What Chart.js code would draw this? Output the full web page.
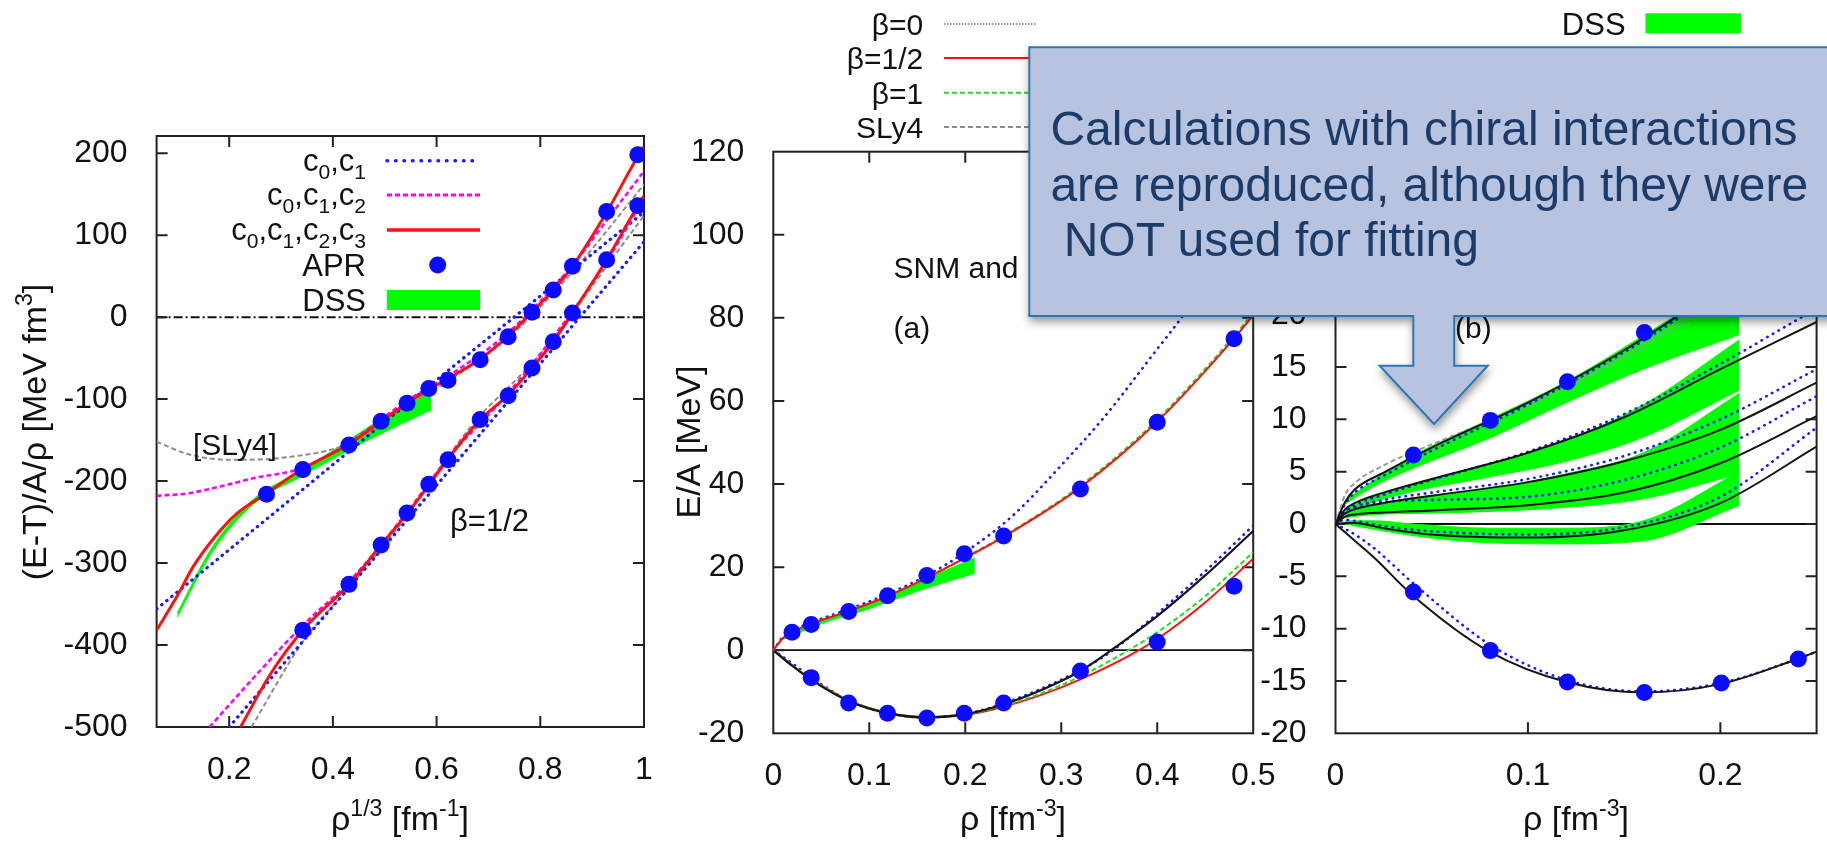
<!DOCTYPE html>
<html lang="en">
<head>
<meta charset="UTF-8">
<title>EOS fits - APR, DSS, SLy4</title>
<script src="https://cdn.jsdelivr.net/npm/chart.js"></script>
<style>
  html, body { margin: 0; padding: 0; background: #fff; }
  body { position: relative; width: 1827px; height: 843px; overflow: hidden; }
  canvas { position: absolute; top: 0; }
  #note { position: absolute; left: 0; top: 0; pointer-events: none; }
</style>
</head>
<body>
<canvas id="c1" width="690" height="843" style="left:0"></canvas>
<canvas id="c2" width="640" height="843" style="left:665px"></canvas>
<canvas id="c3" width="597" height="843" style="left:1230px"></canvas>

<svg id="note" width="1827" height="843" viewBox="0 0 1827 843">
  <defs>
    <filter id="shadow" x="-10%" y="-10%" width="130%" height="140%">
      <feDropShadow dx="1" dy="5" stdDeviation="4" flood-color="#000" flood-opacity="0.4"/>
    </filter>
  </defs>
  <path d="M1029.3 47.3 H1840 V316 H1454.2 V365.7 H1487.8 L1434 424 L1379.6 365.7 H1413.3 V316 H1029.3 Z"
        fill="#b8c4df" stroke="#2e75b6" stroke-width="2" filter="url(#shadow)"/>
  <g font-family="Liberation Sans, Arial, sans-serif" font-size="48" fill="#1b3b69">
    <text x="1050.4" y="145">Calculations with chiral interactions</text>
    <text x="1050.4" y="200.5">are reproduced, although they were</text>
    <text x="1063.7" y="256">NOT used for fitting</text>
  </g>
</svg>

<script>
const FONT = '"Liberation Sans", Arial, sans-serif';

// ---------- left panel: (E-T)/A/rho vs rho^(1/3) ----------
const p1XTicks = [0.2, 0.4, 0.6, 0.8, 1];
const p1YTicks = [-500, -400, -300, -200, -100, 0, 100, 200];

const p1AprUpX = [0.272, 0.342, 0.431, 0.493, 0.543, 0.585, 0.622, 0.684, 0.738, 0.784, 0.825, 0.862, 0.928, 0.988];
const p1AprUpY = [-216, -186, -156, -127, -105, -87, -77, -52, -24, 6, 33, 62, 129, 198];
const p1AprLoX = [0.342, 0.431, 0.493, 0.543, 0.585, 0.622, 0.684, 0.738, 0.784, 0.825, 0.862, 0.928, 0.988];
const p1AprLoY = [-382, -326, -278, -239, -204, -174, -125, -96, -62, -30, 5, 70, 136];

const p1RedUpX = [0.06, 0.1, 0.13, 0.17, 0.214, 0.272, 0.342, 0.431, 0.493, 0.543, 0.585, 0.622, 0.684, 0.738, 0.784, 0.825, 0.862, 0.928, 0.988, 1.0];
const p1RedUpY = [-382, -340, -305, -270, -240, -215, -185, -155, -127, -105, -88, -75, -51, -23, 6, 33, 62, 128, 196, 208];
const p1RedLoX = [0.222, 0.28, 0.342, 0.431, 0.493, 0.543, 0.585, 0.622, 0.684, 0.738, 0.784, 0.825, 0.862, 0.928, 0.988, 1.0];
const p1RedLoY = [-500, -435, -382, -326, -278, -240, -205, -173, -125, -95, -62, -30, 5, 70, 136, 148];

const p1MagUpX = [0.06, 0.12, 0.18, 0.25, 0.342, 0.431, 0.543, 0.622, 0.738, 0.862, 0.928, 1.0];
const p1MagUpY = [-218, -215, -207, -196, -184, -153, -102, -72, -19, 63, 118, 178];
const p1MagLoX = [0.162, 0.25, 0.342, 0.431, 0.543, 0.622, 0.738, 0.862, 0.928, 1.0];
const p1MagLoY = [-500, -438, -376, -323, -238, -172, -93, 7, 68, 145];

const p1BlueUpX = [0.06, 0.3, 0.5, 0.73, 1.0];
const p1BlueUpY = [-356, -232, -128, -10, 128];
const p1BlueLoX = [0.2, 0.45, 0.7, 1.0];
const p1BlueLoY = [-500, -316, -131, 92];

const p1GrayUpX = [0.06, 0.12, 0.2, 0.31, 0.431, 0.543, 0.622, 0.738, 0.862, 0.928, 1.0];
const p1GrayUpY = [-152, -167, -174, -171, -154, -108, -78, -25, 55, 105, 162];
const p1GrayLoX = [0.243, 0.342, 0.431, 0.543, 0.622, 0.684, 0.738, 0.8, 0.862, 0.928, 1.0];
const p1GrayLoY = [-500, -396, -330, -242, -170, -120, -86, -45, 5, 62, 124];

const p1DssX = [0.1, 0.166, 0.247, 0.34, 0.431, 0.5, 0.59];
const p1DssHi = [-361, -282, -222, -187, -150, -121, -89];
const p1DssLo = [-366, -288, -228, -194, -162, -140, -113];

// ---------- middle panel: E/A vs rho, 0..0.5 ----------
const p2XTicks = [0, 0.1, 0.2, 0.3, 0.4, 0.5];
const p2YTicks = [-20, 0, 20, 40, 60, 80, 100, 120];

const p2AprPnmX = [0.0195, 0.0395, 0.0785, 0.119, 0.16, 0.199, 0.24, 0.32, 0.40, 0.48];
const p2AprPnmY = [4.3, 6.2, 9.3, 13.1, 18.0, 23.2, 27.5, 38.8, 54.9, 75.0];
const p2AprSnmX = [0.0395, 0.0785, 0.119, 0.16, 0.199, 0.24, 0.32, 0.40, 0.48];
const p2AprSnmY = [-6.6, -12.7, -15.2, -16.3, -15.2, -12.7, -5.0, 2.0, 15.4];

const p2PnmX = [0, 0.01, 0.02, 0.04, 0.08, 0.12, 0.16, 0.2, 0.24, 0.32, 0.4, 0.48, 0.5];
const p2PnmRed = [0, 2.9, 4.4, 6.4, 9.5, 13.1, 17.4, 22.2, 27.3, 39.2, 55.0, 75.0, 80.6];
const p2PnmGreen = [0, 2.9, 4.4, 6.4, 9.6, 13.2, 17.5, 22.4, 27.5, 39.6, 55.5, 75.6, 81.2];
const p2PnmBlueX = [0, 0.01, 0.02, 0.04, 0.08, 0.12, 0.16, 0.2, 0.25, 0.3, 0.344, 0.4, 0.427, 0.46];
const p2PnmBlueY = [0, 3.2, 4.7, 6.7, 10.0, 13.6, 18.0, 23.6, 32.5, 44.5, 55.9, 72.5, 80.6, 92];

const p2SnmBlackX = [0, 0.02, 0.04, 0.08, 0.12, 0.16, 0.2, 0.24, 0.28, 0.32, 0.352, 0.4, 0.45, 0.5];
const p2SnmBlackY = [0, -3.8, -7.2, -12.4, -15.2, -16.2, -15.4, -13.0, -9.5, -5.0, 0, 8.2, 18.0, 28.7];
const p2SnmX = [0, 0.02, 0.04, 0.08, 0.12, 0.16, 0.2, 0.24, 0.28, 0.32, 0.37, 0.4, 0.45, 0.5];
const p2SnmGreen = [0, -3.7, -7.0, -12.2, -15.1, -16.1, -15.5, -13.4, -10.3, -6.3, 0, 4.3, 13.0, 23.6];
const p2SnmRed = [0, -3.7, -7.0, -12.2, -15.1, -16.1, -15.6, -13.6, -10.7, -7.0, -1.4, 2.7, 11.5, 22.0];
const p2SnmBlueX = [0, 0.02, 0.04, 0.08, 0.12, 0.16, 0.2, 0.24, 0.32, 0.352, 0.4, 0.45, 0.5];
const p2SnmBlueY = [0, -3.2, -6.6, -12.3, -15.2, -16.2, -15.3, -12.8, -4.8, -0.3, 8.8, 19.0, 30.0];

const p2DssX = [0.01, 0.05, 0.1, 0.15, 0.21];
const p2DssHi = [3.0, 7.2, 11.0, 16.3, 22.2];
const p2DssLo = [2.6, 6.4, 10.0, 14.2, 18.5];

// ---------- right panel: E/A vs rho, 0..0.25, several asymmetries ----------
const p3XTicks = [0, 0.1, 0.2];
const p3YTicks = [-20, -15, -10, -5, 0, 5, 10, 15, 20, 25, 30, 35];

const p3AprPnmX = [0.0405, 0.0805, 0.1205, 0.1605];
const p3AprPnmY = [6.6, 9.9, 13.6, 18.3];
const p3AprSnmX = [0.0405, 0.0805, 0.1205, 0.1605, 0.2005, 0.2405];
const p3AprSnmY = [-6.5, -12.1, -15.1, -16.1, -15.2, -12.9];

const p3X = [0, 0.005, 0.01, 0.025, 0.05, 0.1, 0.15, 0.2, 0.25];
const p3BlackA = [0, 2.1, 3.3, 4.9, 7.3, 11.6, 16.6, 22.6, 29.0];
const p3BlackB = [0, 1.4, 2.0, 3.0, 4.3, 6.8, 10.2, 14.8, 19.3];
const p3BlackC = [0, 1.0, 1.4, 2.0, 2.7, 4.0, 6.0, 9.0, 13.5];
const p3BlackD = [0, 0.7, 0.9, 1.1, 1.3, 1.8, 3.0, 5.8, 10.3];
const p3BlackE = [0, 0.1, 0.1, -0.4, -1.0, -1.3, -0.6, 2.0, 7.4];
const p3BlueA = [0, 1.9, 3.0, 4.6, 7.0, 11.4, 16.4, 22.3, 28.6];
const p3BlueB = [0, 1.2, 1.8, 2.8, 4.2, 6.9, 10.5, 15.3, 20.6];
const p3BlueC = [0, 1.1, 1.6, 2.3, 3.0, 4.3, 6.5, 10.0, 14.8];
const p3BlueD = [0, 1.1, 1.6, 2.1, 2.3, 2.6, 4.2, 7.3, 12.2];
const p3BlueE = [0, 0.4, 0.3, -0.2, -0.7, -1.0, -0.3, 2.6, 9.2];

const p3SnmX = [0, 0.01, 0.02, 0.04, 0.08, 0.12, 0.16, 0.2, 0.24, 0.25];
const p3SnmBlack = [0, -1.6, -3.2, -6.8, -12.2, -15.1, -16.1, -15.3, -12.9, -12.2];
const p3SnmBlue = [0, -1.0, -2.3, -5.6, -11.5, -14.9, -16.0, -15.2, -12.9, -12.2];

const p3GrayX = [0, 0.005, 0.01, 0.025, 0.05, 0.1, 0.15, 0.2];
const p3GrayY = [0, 2.8, 3.9, 5.6, 7.6, 11.4, 16.0, 21.5];

const p3BandX = [0.005, 0.02, 0.04, 0.08, 0.12, 0.16, 0.21];
const p3BandAHi = [2.2, 4.2, 6.5, 10.0, 13.6, 18.0, 23.8];
const p3BandALo = [1.9, 3.6, 5.3, 8.2, 11.6, 14.8, 18.1];
const p3BandBHi = [1.4, 2.6, 3.8, 5.7, 8.0, 11.4, 17.6];
const p3BandBLo = [1.1, 2.1, 3.1, 4.5, 6.0, 8.3, 12.8];
const p3BandCHi = [1.0, 1.8, 2.5, 3.4, 4.8, 6.8, 12.5];
const p3BandCLo = [0.6, 0.9, 1.0, 1.2, 1.6, 2.4, 4.8];
const p3BandDHi = [0.3, 0.3, 0.0, -0.4, -0.4, 0.3, 5.0];
const p3BandDLo = [0.0, -0.5, -1.1, -1.8, -1.9, -1.6, 1.8];

// ---------- helpers ----------
const RED = '#ff1010', BLUE = '#1a1aff', MAG = '#ff00ff', GRAY = '#8c8c8c', BLACK = '#151515';
const xy = (xs, ys) => xs.map((x, i) => ({ x, y: ys[i] }));

function line(xs, ys, color, width, dash, cap) {
  return {
    data: xy(xs, ys), borderColor: color, borderWidth: width, borderDash: dash || [],
    borderCapStyle: cap || 'butt', pointRadius: 0, fill: false,
    cubicInterpolationMode: 'monotone', order: 5
  };
}
const dotted = (xs, ys, w) => line(xs, ys, BLUE, w || 2.6, [0.5, 6], 'round');

function band(xs, hi, lo) {
  return [
    { data: xy(xs, hi), borderColor: '#00ff00', borderWidth: 1, backgroundColor: '#00ff00',
      pointRadius: 0, fill: '+1', cubicInterpolationMode: 'monotone', order: 10 },
    { data: xy(xs, lo), borderColor: '#00ff00', borderWidth: 1,
      pointRadius: 0, fill: false, cubicInterpolationMode: 'monotone', order: 10 }
  ];
}

function dots(xs, ys) {
  return { data: xy(xs, ys), showLine: false, pointRadius: 8.5, pointBackgroundColor: '#0b0bff',
           pointBorderWidth: 0, pointBorderColor: '#0b0bff', order: 0 };
}

const tickLabel = v => String(+v.toFixed(2));

function makeOptions(xr, yr, xTicks, yTicks, yWidth, xHeight, pad, frameOpts) {
  const tickStyle = { font: { family: FONT, size: 32 }, color: '#111', autoSkip: false, maxRotation: 0, callback: tickLabel };
  return {
    responsive: false,
    animation: false,
    events: [],
    layout: { padding: pad },
    plugins: { legend: { display: false }, tooltip: { enabled: false }, frame: frameOpts },
    scales: {
      x: {
        type: 'linear', min: xr[0], max: xr[1],
        grid: { display: false }, border: { display: false },
        ticks: { ...tickStyle, padding: 16 },
        afterBuildTicks: s => { s.ticks = xTicks.map(v => ({ value: v })); },
        afterFit: s => { s.height = xHeight; }
      },
      y: {
        type: 'linear', min: yr[0], max: yr[1],
        grid: { display: false }, border: { display: false },
        ticks: { ...tickStyle, padding: 21 },
        afterBuildTicks: s => { s.ticks = yTicks.map(v => ({ value: v })); },
        afterFit: s => { s.width = yWidth; }
      }
    }
  };
}

// gnuplot-like frame: border, inward mirrored ticks, zero line
const frame = {
  id: 'frame',
  beforeDatasetsDraw(chart, args, opts) {
    const { ctx, chartArea: a } = chart;
    const sx = chart.scales.x, sy = chart.scales.y;
    ctx.save();
    const zy = sy.getPixelForValue(0);
    ctx.strokeStyle = '#111';
    ctx.lineWidth = opts.zeroWidth || 1.5;
    ctx.setLineDash(opts.zeroDash || []);
    ctx.beginPath(); ctx.moveTo(a.left, zy); ctx.lineTo(a.right, zy); ctx.stroke();
    ctx.setLineDash([]);
    ctx.strokeStyle = '#222';
    ctx.lineWidth = 2;
    ctx.strokeRect(a.left, a.top, a.right - a.left, a.bottom - a.top);
    const L = 11;
    ctx.beginPath();
    sx.ticks.forEach(t => {
      const p = sx.getPixelForValue(t.value);
      if (p < a.left + 2 || p > a.right - 2) return;
      ctx.moveTo(p, a.bottom); ctx.lineTo(p, a.bottom - L);
      ctx.moveTo(p, a.top); ctx.lineTo(p, a.top + L);
    });
    sy.ticks.forEach(t => {
      const p = sy.getPixelForValue(t.value);
      if (p < a.top + 2 || p > a.bottom - 2) return;
      ctx.moveTo(a.left, p); ctx.lineTo(a.left + L, p);
      ctx.moveTo(a.right, p); ctx.lineTo(a.right - L, p);
    });
    ctx.stroke();
    ctx.restore();
  }
};

// text with sub/superscripts; y is the baseline
function rich(ctx, parts, x, y, size, align, angle) {
  ctx.save();
  ctx.translate(x, y);
  ctx.rotate(angle || 0);
  ctx.fillStyle = '#111';
  ctx.textBaseline = 'alphabetic';
  ctx.textAlign = 'left';
  const fontFor = m => (m ? size * 0.68 : size) + 'px ' + FONT;
  let total = 0;
  parts.forEach(([t, m]) => { ctx.font = fontFor(m); total += ctx.measureText(t).width; });
  let cx = align === 'right' ? -total : align === 'center' ? -total / 2 : 0;
  parts.forEach(([t, m]) => {
    ctx.font = fontFor(m);
    const dy = m === 1 ? -size * 0.42 : m === -1 ? size * 0.26 : 0;
    ctx.fillText(t, cx, dy);
    cx += ctx.measureText(t).width;
  });
  ctx.restore();
}

function sample(ctx, x0, x1, y, color, width, dash, cap) {
  ctx.save();
  ctx.strokeStyle = color; ctx.lineWidth = width;
  ctx.setLineDash(dash || []); ctx.lineCap = cap || 'butt';
  ctx.beginPath(); ctx.moveTo(x0, y); ctx.lineTo(x1, y); ctx.stroke();
  ctx.restore();
}

// ---------- chart 1 ----------
new Chart(document.getElementById('c1'), {
  type: 'line',
  data: {
    datasets: [
      dots(p1AprUpX, p1AprUpY),
      dots(p1AprLoX, p1AprLoY),
      line(p1RedUpX, p1RedUpY, RED, 3),
      line(p1RedLoX, p1RedLoY, RED, 3),
      line(p1MagUpX, p1MagUpY, MAG, 2.6, [5, 3]),
      line(p1MagLoX, p1MagLoY, MAG, 2.6, [5, 3]),
      dotted(p1BlueUpX, p1BlueUpY, 3.2),
      dotted(p1BlueLoX, p1BlueLoY, 3.2),
      line(p1GrayUpX, p1GrayUpY, GRAY, 2, [5, 3]),
      line(p1GrayLoX, p1GrayLoY, GRAY, 2, [5, 3]),
      ...band(p1DssX, p1DssHi, p1DssLo)
    ]
  },
  options: makeOptions([0.06, 1.0], [-500, 221], p1XTicks, p1YTicks, 156.6, 116,
    { left: 0, top: 136, right: 46, bottom: 0 },
    { zeroDash: [9, 3, 2, 3], zeroWidth: 2 }),
  plugins: [frame, {
    id: 'deco1',
    afterDraw(chart) {
      const ctx = chart.ctx;
      const S = 31;
      // legend
      rich(ctx, [['c', 0], ['0', -1], [',c', 0], ['1', -1]], 366, 171, S, 'right');
      rich(ctx, [['c', 0], ['0', -1], [',c', 0], ['1', -1], [',c', 0], ['2', -1]], 366, 205, S, 'right');
      rich(ctx, [['c', 0], ['0', -1], [',c', 0], ['1', -1], [',c', 0], ['2', -1], [',c', 0], ['3', -1]], 366, 240, S, 'right');
      rich(ctx, [['APR', 0]], 366, 276, S, 'right');
      rich(ctx, [['DSS', 0]], 366, 311, S, 'right');
      sample(ctx, 387, 480, 160.7, BLUE, 3.5, [0.5, 8], 'round');
      sample(ctx, 387, 480, 195, MAG, 3, [5, 3]);
      sample(ctx, 387, 480, 230, RED, 3.5);
      ctx.save();
      ctx.fillStyle = '#0b0bff';
      ctx.beginPath(); ctx.arc(437.7, 265, 8.5, 0, Math.PI * 2); ctx.fill();
      ctx.fillStyle = '#00ff00';
      ctx.fillRect(387, 290, 93, 20);
      ctx.restore();
      // annotations
      rich(ctx, [['[SLy4]', 0]], 193, 455, 30, 'left');
      rich(ctx, [['β=1/2', 0]], 450, 531, 31, 'left');
      // axis titles
      rich(ctx, [['ρ', 0], ['1/3', 1], [' [fm', 0], ['-1', 1], [']', 0]], 400, 830, 34, 'center');
      rich(ctx, [['(E-T)/A/ρ [MeV fm', 0], ['3', 1], [']', 0]], 46, 432, 34, 'center', -Math.PI / 2);
    }
  }]
});

// ---------- chart 2 ----------
new Chart(document.getElementById('c2'), {
  type: 'line',
  data: {
    datasets: [
      dots(p2AprPnmX, p2AprPnmY),
      dots(p2AprSnmX, p2AprSnmY),
      line(p2PnmX, p2PnmRed, RED, 2),
      line(p2PnmX, p2PnmGreen, '#22dd22', 2, [5, 3]),
      dotted(p2PnmBlueX, p2PnmBlueY),
      line(p2SnmBlackX, p2SnmBlackY, BLACK, 2.2),
      line(p2SnmX, p2SnmGreen, '#22dd22', 2, [5, 3]),
      line(p2SnmX, p2SnmRed, RED, 2),
      dotted(p2SnmBlueX, p2SnmBlueY),
      ...band(p2DssX, p2DssHi, p2DssLo)
    ]
  },
  options: makeOptions([0, 0.5], [-20, 120], p2XTicks, p2YTicks, 108.3, 109.7,
    { left: 0, top: 151.7, right: 51.8, bottom: 0 },
    { zeroWidth: 1.8 }),
  plugins: [frame, {
    id: 'deco2',
    afterDraw(chart) {
      const ctx = chart.ctx;
      ctx.save();
      ctx.translate(-665, 0);
      const S = 30;
      rich(ctx, [['β=0', 0]], 923.3, 35, S, 'right');
      rich(ctx, [['β=1/2', 0]], 923.3, 69, S, 'right');
      rich(ctx, [['β=1', 0]], 923.3, 103.5, S, 'right');
      rich(ctx, [['SLy4', 0]], 923.3, 138, S, 'right');
      sample(ctx, 944, 1037, 24, '#777', 1.5, [1.5, 1.5]);
      sample(ctx, 944, 1037, 58, RED, 2);
      sample(ctx, 944, 1037, 92.7, '#22dd22', 2, [5, 3]);
      sample(ctx, 944, 1037, 127, GRAY, 2.2, [5, 3]);
      rich(ctx, [['SNM and PNM', 0]], 893.5, 278, 30, 'left');
      rich(ctx, [['(a)', 0]], 893.5, 338, 30, 'left');
      rich(ctx, [['ρ [fm', 0], ['-3', 1], [']', 0]], 1013, 830, 34, 'center');
      rich(ctx, [['E/A [MeV]', 0]], 700, 442, 34, 'center', -Math.PI / 2);
      ctx.restore();
    }
  }]
});

// ---------- chart 3 ----------
new Chart(document.getElementById('c3'), {
  type: 'line',
  data: {
    datasets: [
      dots(p3AprPnmX, p3AprPnmY),
      dots(p3AprSnmX, p3AprSnmY),
      line(p3X, p3BlackA, BLACK, 2),
      line(p3X, p3BlackB, BLACK, 2),
      line(p3X, p3BlackC, BLACK, 2),
      line(p3X, p3BlackD, BLACK, 2),
      line(p3X, p3BlackE, BLACK, 2),
      line(p3SnmX, p3SnmBlack, BLACK, 2),
      dotted(p3X, p3BlueA),
      dotted(p3X, p3BlueB),
      dotted(p3X, p3BlueC),
      dotted(p3X, p3BlueD),
      dotted(p3X, p3BlueE),
      dotted(p3SnmX, p3SnmBlue),
      line(p3GrayX, p3GrayY, '#9a9a9a', 2, [5, 3]),
      ...band(p3BandX, p3BandAHi, p3BandALo),
      ...band(p3BandX, p3BandBHi, p3BandBLo),
      ...band(p3BandX, p3BandCHi, p3BandCLo),
      ...band(p3BandX, p3BandDHi, p3BandDLo)
    ]
  },
  options: makeOptions([0, 0.25], [-20, 35], p3XTicks, p3YTicks, 105.5, 109.7,
    { left: 0, top: 157.7, right: 10.4, bottom: 0 },
    { zeroWidth: 1.8 }),
  plugins: [frame, {
    id: 'deco3',
    afterDraw(chart) {
      const ctx = chart.ctx;
      ctx.save();
      ctx.translate(-1230, 0);
      rich(ctx, [['DSS', 0]], 1625.6, 34.5, 31, 'right');
      ctx.fillStyle = '#00ff00';
      ctx.fillRect(1645.5, 13.3, 95.5, 20);
      rich(ctx, [['(b)', 0]], 1455, 338, 30, 'left');
      rich(ctx, [['ρ [fm', 0], ['-3', 1], [']', 0]], 1576, 830, 34, 'center');
      ctx.restore();
    }
  }]
});
</script>
</body>
</html>
